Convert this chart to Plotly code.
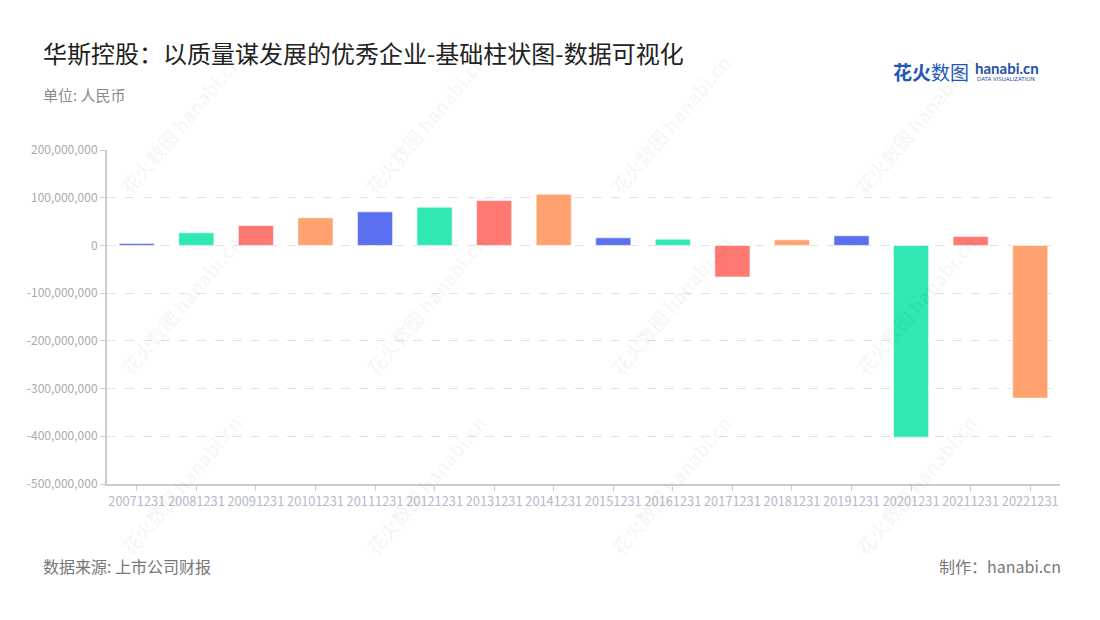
import plotly.graph_objects as go

categories = ["20071231", "20081231", "20091231", "20101231", "20111231", "20121231",
              "20131231", "20141231", "20151231", "20161231", "20171231", "20181231",
              "20191231", "20201231", "20211231", "20221231"]
values = [4200000, 26500000, 41800000, 57900000, 70400000, 80200000,
          94100000, 107400000, 16000000, 13200000, -66200000, 11800000,
          20200000, -402000000, 18800000, -320000000]
palette = ["#5b70f0", "#2fe8b4", "#ff7871", "#ffa26f"]
bar_colors = [palette[i % 4] for i in range(len(categories))]
y_ticks = [200000000, 100000000, 0, -100000000, -200000000, -300000000, -400000000, -500000000]
y_tick_text = ["200,000,000", "100,000,000", "0", "-100,000,000", "-200,000,000",
               "-300,000,000", "-400,000,000", "-500,000,000"]

FONT = "Noto Sans CJK SC"

fig = go.Figure()
fig.add_trace(go.Bar(
    x=categories, y=values,
    marker=dict(color=bar_colors, line=dict(color="rgba(255,255,255,0.6)", width=1)),
    hoverinfo="x+y",
))

W, H = 1100, 620
OFF = 8  # page body margin
# desired page-pixel plot box: x 107..1060, y 150..484
ml, mr, mt, mb = 107 - OFF, W - (1060 - OFF), 150 - OFF, H - (484 - OFF)

fig.update_layout(
    width=W, height=H,
    margin=dict(l=ml, r=mr, t=mt, b=mb),
    paper_bgcolor="white", plot_bgcolor="white",
    font=dict(family=FONT),
    showlegend=False,
    bargap=0.41,
    xaxis=dict(
        type="category",
        showline=True, linecolor="#cccccc", linewidth=2,
        ticks="outside", ticklen=5, tickcolor="#cccccc",
        tickangle=0,
        tickfont=dict(size=12.8, color="#b4b8c8"),
        showgrid=False, zeroline=False, fixedrange=True,
    ),
    yaxis=dict(
        range=[-500000000, 200000000],
        tickvals=y_ticks, ticktext=y_tick_text,
        showline=True, linecolor="#cccccc", linewidth=2,
        ticks="outside", ticklen=5, tickcolor="#cccccc",
        tickfont=dict(size=12, color="#aaaaaa"),
        showgrid=True, gridcolor="#e2e2e2", griddash="dash", gridwidth=1,
        zeroline=False, fixedrange=True,
    ),
)

def px(x, y):
    # page pixel -> paper coords
    x -= OFF
    y -= OFF
    return (x - ml) / (W - ml - mr), 1 - (y - mt) / (H - mt - mb)

ann = []
# watermarks
for cx in [180, 425, 670, 915]:
    for cy in [125, 305, 485]:
        x0, y0 = px(cx, cy)
        ann.append(dict(xref="paper", yref="paper", x=x0, y=y0,
                        text="<b>花火数图</b> <b>hanabi.cn</b>", showarrow=False, textangle=-50,
                        font=dict(size=19, color="rgba(0,0,0,0.05)", family=FONT),
                        xanchor="center", yanchor="middle"))

x0, y0 = px(41, 52)
ann.append(dict(xref="paper", yref="paper", x=x0, y=y0, xanchor="left", yanchor="middle",
                text="华斯控股：以质量谋发展的优秀企业-基础柱状图-数据可视化", showarrow=False,
                font=dict(size=24, color="#222222", family=FONT)))
x0, y0 = px(41, 94)
ann.append(dict(xref="paper", yref="paper", x=x0, y=y0, xanchor="left", yanchor="middle",
                text="单位: 人民币", showarrow=False,
                font=dict(size=15, color="#8a8a8a", family=FONT)))
x0, y0 = px(41, 566)
ann.append(dict(xref="paper", yref="paper", x=x0, y=y0, xanchor="left", yanchor="middle",
                text="数据来源: 上市公司财报", showarrow=False,
                font=dict(size=16, color="#777777", family=FONT)))
x0, y0 = px(1063, 566)
ann.append(dict(xref="paper", yref="paper", x=x0, y=y0, xanchor="right", yanchor="middle",
                text="制作：hanabi.cn", showarrow=False,
                font=dict(size=16, color="#777777", family=FONT)))
# logo
x0, y0 = px(891, 71)
ann.append(dict(xref="paper", yref="paper", x=x0, y=y0, xanchor="left", yanchor="middle",
                text="<b>花火</b>数图", showarrow=False,
                font=dict(size=19, color="#1f56b8", family=FONT)))
x0, y0 = px(973, 68)
ann.append(dict(xref="paper", yref="paper", x=x0, y=y0, xanchor="left", yanchor="middle",
                text="<b>hanabi.cn</b>", showarrow=False,
                font=dict(size=15, color="#1f4fa8", family="Lato")))
x0, y0 = px(975, 79)
ann.append(dict(xref="paper", yref="paper", x=x0, y=y0, xanchor="left", yanchor="middle",
                text="DATA VISUALIZATION", showarrow=False,
                font=dict(size=5.5, color="#1f4fa8", family="DejaVu Sans")))

fig.update_layout(annotations=ann)
fig.write_html("out.html")
